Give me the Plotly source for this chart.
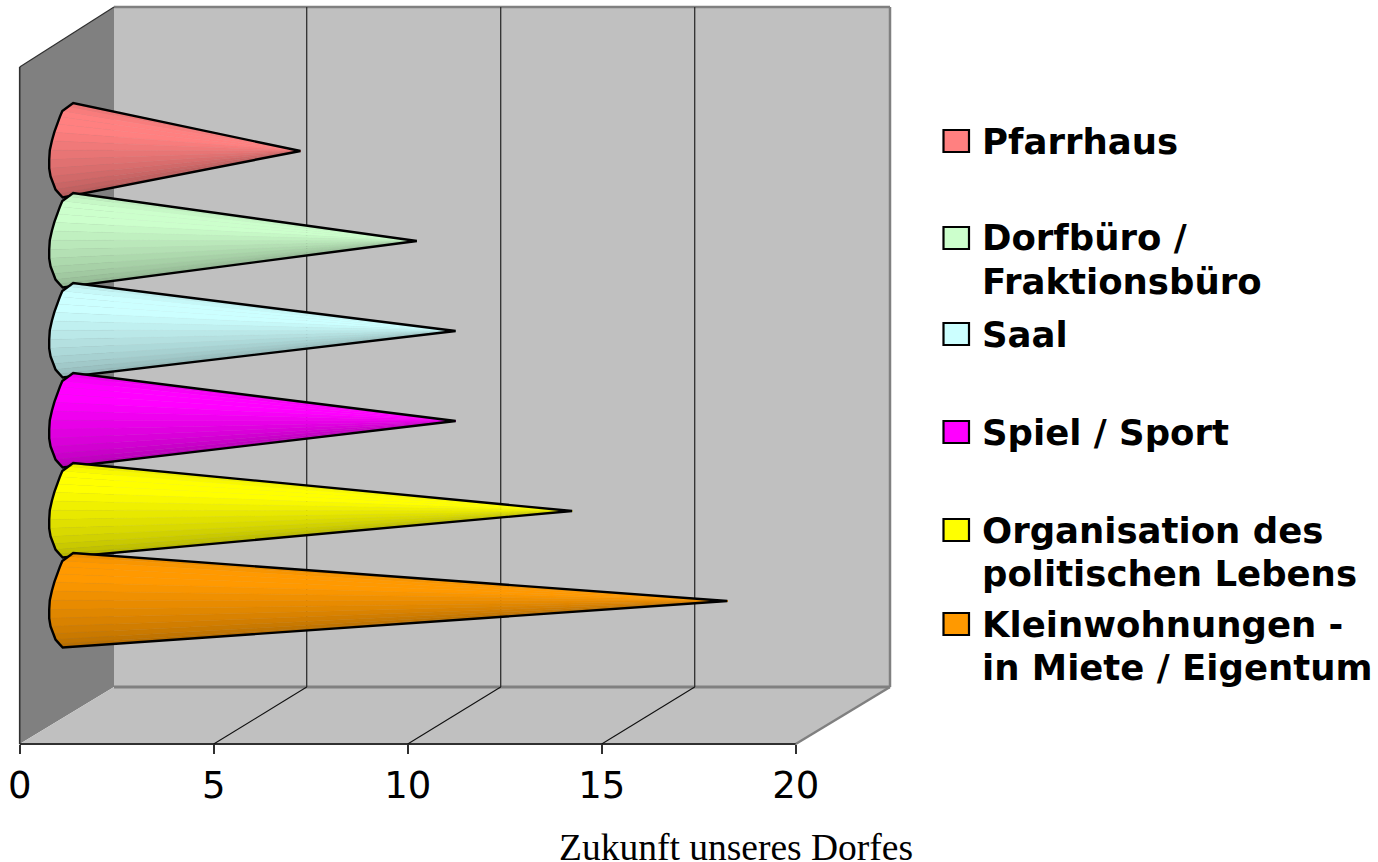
import numpy as np
import plotly.graph_objects as go

# ---- data (top to bottom in the chart) ----
categories = ["Pfarrhaus", "Dorfbüro / Fraktionsbüro", "Saal", "Spiel / Sport",
              "Organisation des politischen Lebens", "Kleinwohnungen - in Miete / Eigentum"]
values = [6, 9, 10, 10, 13, 17]
colors = ["#FF8080", "#CCFFCC", "#CCFFFF", "#FF00FF", "#FFFF00", "#FF9900"]
legend_lines = [["Pfarrhaus"], ["Dorfbüro /", "Fraktionsbüro"], ["Saal"], ["Spiel / Sport"],
                ["Organisation des", "politischen Lebens"], ["Kleinwohnungen -", "in Miete / Eigentum"]]
tick_values = [0, 5, 10, 15, 20]
axis_title = "Zukunft unseres Dorfes"

# ---- layout constants (pixels of the 1378x862 page) ----
W, H = 1378, 862
X0, PXU = 19.7, 38.8          # pixel of value 0, pixels per unit
Y0, PXS = 601.0, 90.0         # pixel of the lowest cone axis, pixels per slot
AXIS_Y, BACK_Y, SIDE_TOP, BACK_TOP = 744, 687, 67, 7
BACK_L, BACK_R = 114, 890
CONE_DEPTH = 48
GRID_DEPTH = 93
N_STRIPS = 16

ux = lambda px: (px - X0) / PXU      # page pixel -> value scale
uy = lambda py: (Y0 - py) / PXS      # page pixel -> slot scale

# base outline of a cone: offset from value 0 (px), offset from cone axis (px)
arc_dx = [53.5, 43, 38, 33, 29.5, 29.5, 36, 43]
arc_dy = [-48, -41, -29, -14, 2, 22, 39, 46.5]
shade_t = [0, 0.2, 0.35, 1]
shade_f = [0.87, 1.0, 1.0, 0.68]


def shade(col, f):
    r, g, b = (int(col[i:i + 2], 16) for i in (1, 3, 5))
    return f"rgb({r * f:.0f},{g * f:.0f},{b * f:.0f})"


fig = go.Figure()
n = len(values)
for i, (cat, val, col) in enumerate(zip(categories, values, colors)):
    slot = n - 1 - i
    tip_x = val + ux(X0 + CONE_DEPTH)
    tip_y = slot
    u = np.linspace(0, 1, N_STRIPS + 1)
    dy = arc_dy[0] + (arc_dy[-1] - arc_dy[0]) * (1 - np.cos(np.pi * u)) / 2
    dx = np.interp(dy, arc_dy, arc_dx)
    bx = dx / PXU
    by = slot - dy / PXS
    for k in range(N_STRIPS):
        t = (k + 0.5) / N_STRIPS
        f = float(np.interp(t, shade_t, shade_f))
        c = shade(col, f)
        fig.add_trace(go.Scatter(
            x=[bx[k], bx[k + 1], tip_x, bx[k]], y=[by[k], by[k + 1], tip_y, by[k]],
            mode="lines", fill="toself", fillcolor=c,
            line=dict(width=0.4, color=c), hoverinfo="skip", showlegend=False, name=cat))
    ox = np.concatenate([[tip_x], bx, [tip_x]])
    oy = np.concatenate([[tip_y], by, [tip_y]])
    fig.add_trace(go.Scatter(x=ox, y=oy, mode="lines", line=dict(color="black", width=2.4),
                             name=cat, showlegend=False,
                             hovertemplate=f"{cat}: {val}<extra></extra>"))


def poly(pts, fill, line=None, width=0):
    path = "M " + " L ".join(f"{ux(a):.4f},{uy(b):.4f}" for a, b in pts) + " Z"
    return dict(type="path", path=path, xref="x", yref="y", fillcolor=fill,
                line=dict(color=line or fill, width=width), layer="below")


def seg(a, b, c, d, color, width):
    return dict(type="line", xref="x", yref="y", x0=ux(a), y0=uy(b), x1=ux(c), y1=uy(d),
                line=dict(color=color, width=width), layer="below")


X20 = X0 + 20 * PXU
shapes = [
    poly([(X0, SIDE_TOP), (BACK_L, BACK_TOP), (BACK_L, BACK_Y), (X0, AXIS_Y)], "#808080"),
    poly([(BACK_L, BACK_TOP), (BACK_R, BACK_TOP), (BACK_R, BACK_Y), (BACK_L, BACK_Y)], "#C0C0C0"),
    poly([(X0, AXIS_Y), (BACK_L, BACK_Y), (BACK_R, BACK_Y), (X20, AXIS_Y)], "#C0C0C0"),
    seg(BACK_L, BACK_TOP, BACK_R, BACK_TOP, "#808080", 2.5),
    seg(BACK_R, BACK_TOP, BACK_R, BACK_Y, "#808080", 2.5),
    seg(BACK_L, BACK_Y, BACK_R, BACK_Y, "#808080", 3),
    seg(BACK_R, BACK_Y, X20, AXIS_Y, "#808080", 2.5),
    seg(X0, SIDE_TOP, BACK_L, BACK_TOP, "#303030", 1.2),
    seg(X0, SIDE_TOP, X0, AXIS_Y, "#303030", 1.6),
    seg(X0, AXIS_Y, X20, AXIS_Y, "#303030", 2),
]
for v in tick_values[1:-1]:
    px = X0 + v * PXU
    shapes.append(seg(px + GRID_DEPTH, BACK_TOP, px + GRID_DEPTH, BACK_Y, "#303030", 1.3))
    shapes.append(seg(px, AXIS_Y, px + GRID_DEPTH, BACK_Y, "#101010", 1.1))

# legend swatches and labels
swatch_y = [141, 238, 334, 432, 530, 624]
annotations = []
for col, yc, lines in zip(colors, swatch_y, legend_lines):
    shapes.append(dict(type="rect", xref="paper", yref="paper",
                       x0=943.5 / W, x1=969 / W, y0=1 - (yc + 11) / H, y1=1 - (yc - 11) / H,
                       fillcolor=col, line=dict(color="black", width=2.2)))
    for j, text in enumerate(lines):
        annotations.append(dict(text=f"<b>{text}</b>", xref="paper", yref="paper",
                                x=980 / W, y=1 - (yc + j * 43) / H, xanchor="left", yanchor="middle",
                                showarrow=False, align="left",
                                font=dict(family="DejaVu Sans", size=35.5, color="black")))
annotations.append(dict(text=axis_title, xref="paper", yref="paper", x=736 / W, y=1 - 847 / H,
                        xanchor="center", yanchor="middle", showarrow=False,
                        font=dict(family="Liberation Serif", size=37.5, color="black")))

fig.update_layout(
    width=W, height=H, margin=dict(l=0, r=0, t=0, b=0, pad=0, autoexpand=False),
    paper_bgcolor="white", plot_bgcolor="white", showlegend=False,
    shapes=shapes, annotations=annotations,
    xaxis=dict(range=[ux(0), ux(W)], domain=[0, 1], anchor="free", position=1 - AXIS_Y / H,
               tickmode="array", tickvals=tick_values, ticktext=[str(v) for v in tick_values],
               ticks="outside", ticklen=9, tickwidth=1.5, tickcolor="#303030",
               tickfont=dict(family="DejaVu Sans", size=37, color="black"),
               showgrid=False, zeroline=False, showline=False),
    yaxis=dict(range=[uy(H), uy(0)], domain=[0, 1], visible=False, fixedrange=True),
)

fig.write_html("out.html", config={"displayModeBar": False},
               post_script="document.body.style.margin='0';document.body.style.overflow='hidden';")
